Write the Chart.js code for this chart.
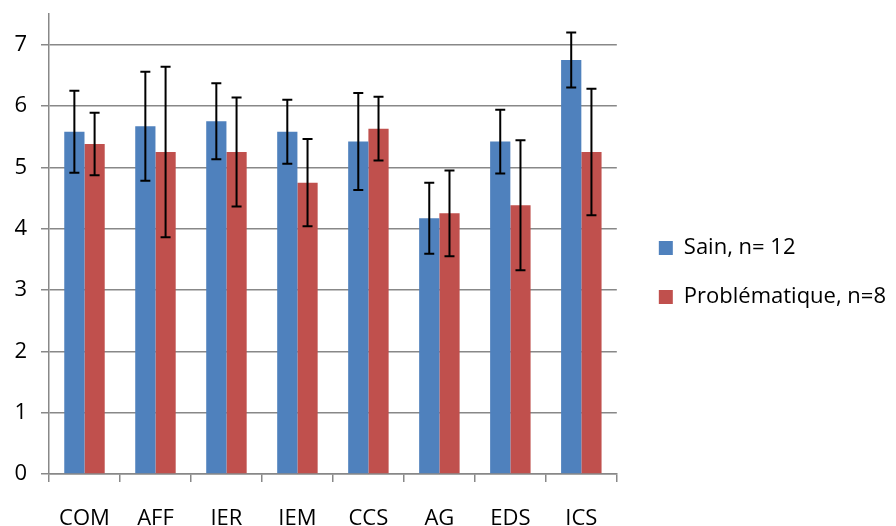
<!DOCTYPE html>
<html>
<head>
<meta charset="utf-8">
<script src="https://cdn.jsdelivr.net/npm/chart.js@4"></script>
<style>
  html, body { margin: 0; padding: 0; background: #fff; overflow: hidden; }
  #wrap { width: 896px; height: 545px; position: relative; }
</style>
</head>
<body>
<div id="wrap"><canvas id="chart"></canvas></div>
<script>
// Data
const categories = ['COM', 'AFF', 'IER', 'IEM', 'CCS', 'AG', 'EDS', 'ICS'];
const sainValues = [5.58, 5.67, 5.75, 5.58, 5.42, 4.17, 5.42, 6.75];
const sainErrors = [0.67, 0.89, 0.62, 0.52, 0.79, 0.58, 0.52, 0.45];
const probValues = [5.38, 5.25, 5.25, 4.75, 5.63, 4.25, 4.38, 5.25];
const probErrors = [0.51, 1.39, 0.89, 0.71, 0.52, 0.70, 1.06, 1.03];
const yTicks = [0, 1, 2, 3, 4, 5, 6, 7];

const gridColor = '#888888';
const font = { family: 'Open Sans', size: 22 };

// draws the +/- error bars on top of each bar
const errorBars = {
  id: 'errorBars',
  afterDatasetsDraw(chart) {
    const ctx = chart.ctx;
    const yScale = chart.scales.y;
    chart.data.datasets.forEach((ds, i) => {
      chart.getDatasetMeta(i).data.forEach((bar, j) => {
        const top = yScale.getPixelForValue(ds.data[j] + ds.errors[j]);
        const bot = yScale.getPixelForValue(ds.data[j] - ds.errors[j]);
        ctx.save();
        ctx.strokeStyle = '#000';
        ctx.lineWidth = 2;
        ctx.beginPath();
        ctx.moveTo(bar.x, top); ctx.lineTo(bar.x, bot);
        ctx.moveTo(bar.x - 5, top); ctx.lineTo(bar.x + 5, top);
        ctx.moveTo(bar.x - 5, bot); ctx.lineTo(bar.x + 5, bot);
        ctx.stroke();
        ctx.restore();
      });
    });
  }
};

new Chart(document.getElementById('chart'), {
  type: 'bar',
  data: {
    labels: categories,
    datasets: [
      { label: 'Sain, n= 12', data: sainValues, errors: sainErrors, backgroundColor: '#4F81BD' },
      { label: 'Problématique, n=8', data: probValues, errors: probErrors, backgroundColor: '#C0504D' }
    ]
  },
  options: {
    responsive: true,
    maintainAspectRatio: false,
    animation: false,
    categoryPercentage: 0.57,
    barPercentage: 1.0,
    layout: { padding: { top: 14, bottom: 14 } },
    plugins: {
      tooltip: { enabled: false },
      legend: {
        position: 'right',
        maxWidth: 320,
        labels: { boxWidth: 14, boxHeight: 14, padding: 27, color: '#000', font: font }
      }
    },
    scales: {
      x: {
        grid: { drawOnChartArea: false, offset: true, tickLength: 8, color: gridColor, lineWidth: 1.5 },
        border: { color: gridColor, width: 1.5 },
        ticks: { padding: 24, color: '#000', font: font },
        afterFit: s => { s.height = 57; }
      },
      y: {
        min: 0,
        max: 7.5,
        afterBuildTicks: s => { s.ticks = yTicks.map(v => ({ value: v })); },
        afterFit: s => { s.width = 49; s.paddingTop = 0; s.paddingBottom = 0; },
        grid: { color: gridColor, lineWidth: 1.5, tickLength: 8 },
        border: { color: gridColor, width: 1.5 },
        ticks: { padding: 14, color: '#000', font: font }
      },
      yR: {
        position: 'right',
        grid: { display: false },
        border: { display: false },
        ticks: { display: false },
        afterFit: s => { s.width = 15; s.paddingTop = 0; s.paddingBottom = 0; }
      }
    }
  },
  plugins: [errorBars]
});
</script>
</body>
</html>
